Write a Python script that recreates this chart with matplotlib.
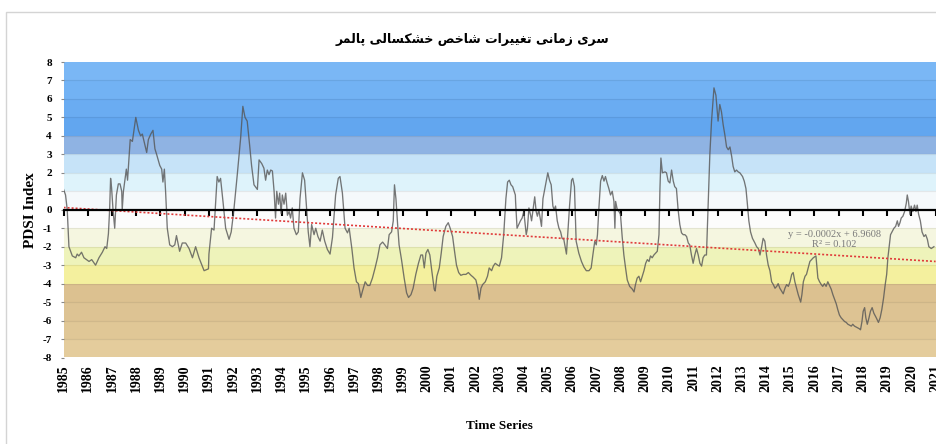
import numpy as np
import matplotlib
matplotlib.use('Agg')
import matplotlib.pyplot as plt
from matplotlib.patches import Rectangle

# Dane (rok dziesiętny, wartość PDSI)
years = [
    1985.00, 1985.08, 1985.15, 1985.22, 1985.36, 1985.50, 1985.56, 1985.63, 1985.74, 1985.84,
    1986.05, 1986.16, 1986.32, 1986.46, 1986.60, 1986.71, 1986.78, 1986.85, 1986.90, 1986.94,
    1986.98, 1987.04, 1987.11, 1987.18, 1987.26, 1987.33, 1987.40, 1987.42, 1987.47, 1987.59,
    1987.64, 1987.75, 1987.84, 1987.98, 1988.09, 1988.18, 1988.25, 1988.36, 1988.43, 1988.50,
    1988.60, 1988.69, 1988.77, 1988.84, 1988.97, 1989.05, 1989.10, 1989.16, 1989.21, 1989.28,
    1989.38, 1989.49, 1989.59, 1989.66, 1989.79, 1989.90, 1990.04, 1990.18, 1990.32, 1990.45,
    1990.59, 1990.80, 1990.98,
    1991.00, 1991.11, 1991.21, 1991.34, 1991.41, 1991.48, 1991.58, 1991.69, 1991.83, 1991.92,
    1992.03, 1992.17, 1992.31, 1992.40, 1992.49, 1992.58, 1992.68, 1992.76, 1992.86, 1993.00,
    1993.07, 1993.18, 1993.27, 1993.34, 1993.41, 1993.48, 1993.55, 1993.62, 1993.69, 1993.75,
    1993.80, 1993.87, 1993.92, 1993.98, 1994.03, 1994.10, 1994.17, 1994.24, 1994.31, 1994.37,
    1994.44, 1994.51, 1994.61, 1994.69, 1994.76, 1994.86, 1994.95, 1995.04, 1995.10, 1995.17,
    1995.24, 1995.34, 1995.41, 1995.50, 1995.59, 1995.68, 1995.78, 1995.89, 1996.00, 1996.10,
    1996.23, 1996.34, 1996.41, 1996.51, 1996.62, 1996.72, 1996.79, 1996.90, 1996.99, 1997.09,
    1997.17, 1997.27, 1997.34, 1997.45,
    1997.55, 1997.64, 1997.75, 1997.86, 1997.96, 1998.06, 1998.17, 1998.26, 1998.37, 1998.44,
    1998.54, 1998.61, 1998.66, 1998.72, 1998.79, 1998.85, 1998.95, 1999.06, 1999.16, 1999.24,
    1999.34, 1999.43, 1999.54, 1999.65, 1999.75, 1999.82, 1999.89, 1999.96, 2000.04, 2000.12,
    2000.20, 2000.30, 2000.34, 2000.41, 2000.51, 2000.59, 2000.67, 2000.78, 2000.88, 2000.96,
    2001.06, 2001.14, 2001.22, 2001.31, 2001.40, 2001.50, 2001.61, 2001.71, 2001.82, 2001.91,
    2002.02, 2002.10, 2002.16, 2002.23, 2002.30, 2002.41, 2002.50, 2002.57, 2002.67, 2002.74,
    2002.82, 2002.92, 2002.99, 2003.08, 2003.17, 2003.26, 2003.33, 2003.40, 2003.47, 2003.54,
    2003.65,
    2003.66, 2003.72, 2003.79, 2003.86, 2003.93, 2004.00, 2004.04, 2004.10, 2004.15, 2004.21,
    2004.28, 2004.32, 2004.37, 2004.45, 2004.51, 2004.56, 2004.62, 2004.69, 2004.73, 2004.79,
    2004.87, 2004.94, 2004.99, 2005.06, 2005.13, 2005.20, 2005.25, 2005.31, 2005.38, 2005.45,
    2005.52, 2005.58, 2005.65, 2005.72, 2005.76, 2005.82, 2005.89, 2005.97, 2006.02, 2006.09,
    2006.16, 2006.27, 2006.38, 2006.48, 2006.58, 2006.69, 2006.78, 2006.85, 2006.93, 2006.99,
    2007.04, 2007.10, 2007.17, 2007.24, 2007.31, 2007.37, 2007.44, 2007.51, 2007.58, 2007.65,
    2007.72, 2007.76, 2007.79, 2007.86, 2007.93, 2007.99, 2008.06, 2008.13, 2008.20, 2008.27,
    2008.37, 2008.48, 2008.55, 2008.61, 2008.68, 2008.75, 2008.82, 2008.89, 2008.96, 2009.03,
    2009.10, 2009.17, 2009.23, 2009.30, 2009.37, 2009.44, 2009.51, 2009.58, 2009.62, 2009.66,
    2009.72, 2009.83,
    2009.89, 2009.96, 2010.03, 2010.10, 2010.17, 2010.23, 2010.30, 2010.37, 2010.44, 2010.51,
    2010.58, 2010.65, 2010.72, 2010.79, 2010.85, 2010.92, 2010.99, 2011.06, 2011.13, 2011.20,
    2011.27, 2011.34, 2011.40, 2011.47, 2011.54, 2011.61, 2011.68, 2011.75, 2011.85, 2011.93,
    2012.02, 2012.09, 2012.16, 2012.23, 2012.30, 2012.37, 2012.44, 2012.51, 2012.58, 2012.64,
    2012.71, 2012.78, 2012.85, 2012.92, 2013.03, 2013.10, 2013.17, 2013.22, 2013.29, 2013.36,
    2013.44, 2013.54, 2013.61, 2013.68, 2013.75, 2013.82, 2013.88, 2013.95, 2014.02, 2014.09,
    2014.16, 2014.23, 2014.30, 2014.37, 2014.44, 2014.50, 2014.57, 2014.64, 2014.71, 2014.78,
    2014.85, 2014.92, 2014.99, 2015.06, 2015.12, 2015.19, 2015.26, 2015.33, 2015.43, 2015.48,
    2015.54, 2015.61, 2015.67, 2015.74, 2015.81, 2015.88, 2015.95, 2016.06,
    2016.14, 2016.21, 2016.28, 2016.34, 2016.41, 2016.48, 2016.55, 2016.62, 2016.69, 2016.76,
    2016.83, 2016.90, 2016.96, 2017.03, 2017.10, 2017.17, 2017.24, 2017.31, 2017.38, 2017.45,
    2017.52, 2017.58, 2017.65, 2017.72, 2017.79, 2017.86, 2017.90, 2017.96, 2018.01, 2018.07,
    2018.12, 2018.18, 2018.25, 2018.31, 2018.38, 2018.45, 2018.55, 2018.64, 2018.71, 2018.78,
    2018.85, 2018.92, 2018.98, 2019.03, 2019.09, 2019.14, 2019.20, 2019.28, 2019.35, 2019.42,
    2019.47, 2019.53, 2019.58, 2019.65, 2019.72, 2019.79, 2019.83, 2019.88, 2019.94, 2019.99,
    2020.06, 2020.13, 2020.19, 2020.24, 2020.30, 2020.37, 2020.44, 2020.52, 2020.59, 2020.66,
    2020.72, 2020.82, 2020.93,
]

pdsi = [
    1.1, 0.8, 0.0, -2.0, -2.5, -2.6, -2.4, -2.5, -2.3, -2.6,
    -2.8, -2.7, -3.0, -2.6, -2.3, -2.0, -2.1, -1.3, 0.0, 1.7,
    1.2, 0.0, -1.0, 0.8, 1.4, 1.4, 1.0, 0.0, 1.0, 2.2,
    1.6, 3.8, 3.7, 5.0, 4.3, 4.0, 4.1, 3.5, 3.1, 3.8,
    4.1, 4.3, 3.3, 3.0, 2.4, 2.2, 1.5, 2.2, 1.0, -1.0,
    -1.9, -2.0, -1.9, -1.4, -2.25, -1.8, -1.8, -2.1, -2.6, -2.0,
    -2.6, -3.3, -3.2,
    -2.4, -1.0, -1.1, 1.8, 1.5, 1.7, 0.45, -1.0, -1.6, -1.2,
    0.0, 1.9, 3.9, 5.6, 5.0, 4.8, 3.5, 2.4, 1.35, 1.1,
    2.7, 2.5, 2.25, 1.6, 2.15, 1.9, 2.15, 2.1, 1.0, -0.45,
    1.0, 0.3, 0.9, -0.2, 0.8, 0.3, 0.9, -0.3, -0.1, -0.45,
    0.1, -1.0, -1.35, -1.2, 0.6, 2.0, 1.6, -0.1, -1.2, -2.0,
    -0.8, -1.35, -1.0, -1.45, -1.7, -1.1, -1.7, -2.15, -2.4, -1.5,
    0.8, 1.7, 1.8, 0.9, -1.0, -1.25, -1.0, -2.1, -3.15, -3.9,
    -4.0, -4.75, -4.4, -3.9,
    -4.1, -4.1, -3.7, -3.15, -2.6, -1.9, -1.75, -1.9, -2.1, -1.35,
    -1.2, -0.6, 1.35, 0.6, -0.8, -1.9, -2.7, -3.7, -4.5, -4.75,
    -4.6, -4.25, -3.5, -2.9, -2.45, -2.45, -3.15, -2.35, -2.15, -2.45,
    -3.3, -4.3, -4.4, -3.6, -3.15, -2.35, -1.45, -0.9, -0.7, -1.0,
    -1.45, -2.25, -3.0, -3.4, -3.55, -3.5, -3.5, -3.4, -3.55, -3.65,
    -3.8, -4.25, -4.85, -4.25, -4.05, -3.9, -3.6, -3.15, -3.3, -3.05,
    -2.9, -3.0, -3.05, -2.6, -1.35, 0.6, 1.5, 1.6, 1.35, 1.25,
    0.8,
    0.45, -1.0, -0.8, -0.6, -0.45, -0.1, -0.6, -1.35, -1.0, 0.1,
    -0.3, -0.6, -0.1, 0.7, -0.1, -0.35, 0.0, -0.55, -0.9, 0.6,
    1.15, 1.6, 2.0, 1.6, 1.35, 0.2, 0.0, 0.2, -0.6, -1.0,
    -1.2, -1.55, -1.6, -2.1, -2.4, -1.2, 0.25, 1.6, 1.7, 1.25,
    -1.7, -2.35, -2.8, -3.1, -3.3, -3.3, -3.15, -2.45, -1.7, -1.9,
    -1.35, 0.1, 1.55, 1.85, 1.55, 1.8, 1.45, 1.15, 0.8, 1.0,
    0.45, -1.0, 0.45, 0.0, -0.1, -0.25, -1.45, -2.45, -3.15, -3.8,
    -4.15, -4.3, -4.45, -4.05, -3.7, -3.6, -3.9, -3.6, -3.3, -2.9,
    -2.7, -2.8, -2.5, -2.6, -2.45, -2.35, -2.25, -1.35, 1.15, 2.8,
    2.0, 2.05,
    2.0, 1.55, 1.45, 2.15, 1.55, 1.25, 1.15, 0.0, -0.8, -1.25,
    -1.35, -1.35, -1.45, -1.8, -1.9, -2.45, -2.9, -2.45, -2.1, -2.45,
    -2.9, -3.05, -2.6, -2.45, -2.45, 0.25, 3.0, 4.8, 6.6, 6.2,
    4.8, 5.7, 5.3, 4.6, 4.05, 3.4, 3.25, 3.4, 2.9, 2.35,
    2.05, 2.15, 2.05, 2.0, 1.8, 1.55, 1.15, 0.45, -0.6, -1.2,
    -1.55, -1.8, -2.0, -2.1, -2.45, -2.0, -1.55, -1.7, -2.45, -3.0,
    -3.3, -3.9, -4.05, -4.25, -4.15, -4.0, -4.25, -4.4, -4.55, -4.25,
    -4.05, -4.15, -3.9, -3.5, -3.4, -3.9, -4.25, -4.6, -5.0, -4.6,
    -3.9, -3.6, -3.5, -3.15, -2.8, -2.7, -2.6, -2.5,
    -3.7, -3.9, -4.05, -4.15, -4.0, -4.15, -3.9, -4.1, -4.3, -4.6,
    -4.85, -5.1, -5.4, -5.7, -5.85, -5.95, -6.05, -6.1, -6.2, -6.25,
    -6.3, -6.2, -6.3, -6.35, -6.4, -6.45, -6.5, -6.05, -5.5, -5.3,
    -5.85, -6.2, -5.85, -5.5, -5.3, -5.6, -5.85, -6.1, -5.85, -5.4,
    -4.8, -4.05, -3.5, -2.6, -1.9, -1.35, -1.2, -1.0, -0.9, -0.6,
    -0.9, -0.7, -0.45, -0.35, -0.1, 0.35, 0.8, 0.45, -0.25, 0.2,
    -0.1, 0.25, -0.1, 0.25, -0.25, -0.6, -1.2, -1.45, -1.35, -1.6,
    -2.0, -2.1, -2.0,
]

# Linia trendu
trend_years = [1985, 2021]
trend_values = [0.12, -2.8]

# Pasy tła: granice i kolory
band_edges = [8, 7, 6, 5, 4, 3, 2, 1, 0, -1, -2, -3, -4, -5, -6, -7, -8]
band_colors = ['#7ab7f5', '#72b2f4', '#6aacf2', '#62a6ef', '#8fb3e3', '#c6e3f8', '#def3fb',
               '#f5f9fb', '#fcfcfc', '#f5f6e0', '#eef3ba', '#f4f09e', '#dcc190', '#ddc393',
               '#e0c796', '#e4cc9c']

tick_years = list(range(1985, 2022))
title_fa = 'سری زمانی تغییرات شاخص خشکسالی پالمر'

# Formy kontekstowe liter perskich (izolowana, końcowa, początkowa, środkowa)
FORMS = {
    'ا': ('\uFE8D', '\uFE8E', None, None),
    'ر': ('\uFEAD', '\uFEAE', None, None),
    'ز': ('\uFEAF', '\uFEB0', None, None),
    'س': ('\uFEB1', '\uFEB2', '\uFEB3', '\uFEB4'),
    'ش': ('\uFEB5', '\uFEB6', '\uFEB7', '\uFEB8'),
    'ص': ('\uFEB9', '\uFEBA', '\uFEBB', '\uFEBC'),
    'خ': ('\uFEA5', '\uFEA6', '\uFEA7', '\uFEA8'),
    'ت': ('\uFE95', '\uFE96', '\uFE97', '\uFE98'),
    'غ': ('\uFECD', '\uFECE', '\uFECF', '\uFED0'),
    'م': ('\uFEE1', '\uFEE2', '\uFEE3', '\uFEE4'),
    'ن': ('\uFEE5', '\uFEE6', '\uFEE7', '\uFEE8'),
    'ل': ('\uFEDD', '\uFEDE', '\uFEDF', '\uFEE0'),
    'ی': ('\uFBFC', '\uFBFD', '\uFBFE', '\uFBFF'),
    'ک': ('\uFB8E', '\uFB8F', '\uFB90', '\uFB91'),
    'پ': ('\uFB56', '\uFB57', '\uFB58', '\uFB59'),
}


# Składanie tekstu perskiego (formy łączone + kolejność od prawej do lewej)
def shape_fa(text):
    out = []
    for i, ch in enumerate(text):
        if ch not in FORMS:
            out.append(ch)
            continue
        iso, fin, ini, med = FORMS[ch]
        prev = text[i - 1] if i > 0 else ''
        nxt = text[i + 1] if i + 1 < len(text) else ''
        join_prev = prev in FORMS and FORMS[prev][2] is not None
        join_next = ini is not None and nxt in FORMS
        if join_prev and join_next:
            out.append(med)
        elif join_prev:
            out.append(fin)
        elif join_next:
            out.append(ini)
        else:
            out.append(iso)
    return ''.join(reversed(out))


serif = 'Liberation Serif'

fig = plt.figure(figsize=(9.36, 4.44), dpi=100)
fig.patches.append(Rectangle((6 / 936, -0.1), 1.2, 0.1 + 1 - 12 / 444, transform=fig.transFigure,
                             fill=False, edgecolor='#d4d4d4', linewidth=1.0))

ax = fig.add_axes([63.6 / 936, 1 - 357.5 / 444, 872 / 936, 295.5 / 444])

for i, col in enumerate(band_colors):
    ax.axhspan(band_edges[i + 1], band_edges[i], color=col, zorder=0, linewidth=0)
for v in band_edges[1:-1]:
    if v != 0:
        ax.axhline(v, color='#000000', alpha=0.07, linewidth=0.9, zorder=1)

ax.plot(years, pdsi, color='#555555', alpha=0.8, linewidth=0.95, zorder=3)
ax.plot(trend_years, trend_values, color='#e03a3a', linestyle=(0, (1.2, 1.2)), linewidth=1.2, zorder=4)

ax.set_xlim(1985, 2021)
ax.set_ylim(-8, 8)
ax.set_yticks(range(-8, 9))
ax.set_yticklabels([str(v) for v in range(-8, 9)], fontfamily=serif, fontweight='bold', fontsize=8)
ax.tick_params(axis='y', length=2.5, width=0.8, color='#888888', pad=6)

# oś x przy zerze
ax.spines['bottom'].set_position(('data', 0))
ax.spines['bottom'].set_color('black')
ax.spines['bottom'].set_linewidth(1.6)
ax.spines['bottom'].set_zorder(5)
ax.set_xticks(tick_years)
ax.tick_params(axis='x', direction='out', length=4, width=1.5, labelbottom=False)
for s in ['top', 'right', 'left']:
    ax.spines[s].set_visible(False)

sec = ax.secondary_xaxis(0.0)
sec.set_xticks(tick_years)
sec.set_xticklabels([str(y) for y in tick_years], rotation=90, fontfamily=serif,
                    fontweight='bold', fontsize=10)
sec.tick_params(length=0, pad=5)
sec.spines['bottom'].set_visible(False)
sec.set_xlabel('Time Series', fontfamily=serif, fontweight='bold', fontsize=9.5, labelpad=20)

ax.set_ylabel('PDSI Index', fontfamily=serif, fontweight='bold', fontsize=11)
ax.yaxis.set_label_coords(-0.03, 0.5)

ax.text(0.884, 0.40, 'y = -0.0002x + 6.9608\nR² = 0.102', transform=ax.transAxes,
        ha='center', va='center', fontfamily=serif, fontsize=7.5, color='#7a7a7a',
        linespacing=1.15, zorder=6)

fig.text(472 / 936, 1 - 40 / 444, shape_fa(title_fa), ha='center', va='center',
         fontfamily=['DejaVu Sans'], fontweight='bold', fontsize=9)

fig.savefig('out.png', dpi=100)
